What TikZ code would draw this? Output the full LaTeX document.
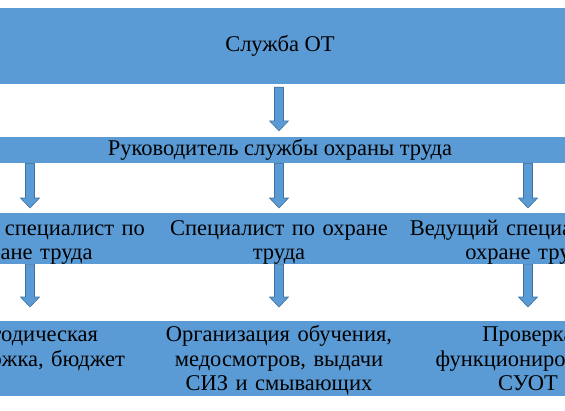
\documentclass[tikz,border=0pt]{standalone}
\usepackage{fontspec}
\setmainfont{Liberation Serif}
\newfontfamily\otfont{Liberation Serif}
\usetikzlibrary{calc}
\definecolor{otblue}{HTML}{5B9BD5}
\definecolor{otedge}{HTML}{41719C}
\begin{document}
\begin{tikzpicture}[
		x=1pt, y=-1pt,
		font=\otfont\fontsize{22.5}{24.5}\selectfont,
		box/.style={fill=otblue, inner sep=0pt, align=center, text=black},
		wide/.style={box, minimum width=640pt},
		cell/.style={box, minimum width=249pt, text width=247pt},
		duty/.style={cell, text height=22pt, text depth=29pt},
		task/.style={cell, text height=20.5pt, text depth=54.5pt},
		flow/.style={fill=otblue, draw=otedge, line width=0.6pt,
				to path={($(\tikztostart)+(-4.5,0)$) -- ($(\tikztotarget)+(-4.5,-10)$)
						-- ($(\tikztotarget)+(-9.5,-10)$) -- (\tikztotarget)
						-- ($(\tikztotarget)+(9.5,-10)$) -- ($(\tikztotarget)+(4.5,-10)$)
						-- ($(\tikztostart)+(4.5,0)$) -- cycle}}
	]
	\useasboundingbox (0,0) rectangle (565,410);
	\clip (0,0) rectangle (565,410);
	\node[wide, minimum height=76pt] (sl) at (280,46) {Служба ОТ};
	\node[wide, minimum height=26pt] (rk) at (280,150) {Руководитель службы охраны труда};
	\node[duty, anchor=north] (gs) at (30,213) {Главный специалист по\\охране труда};
	\node[duty, anchor=north] (sp) at (279,213) {Специалист по охране\\труда};
	\node[duty, anchor=north] (vs) at (528,213) {Ведущий специалист по\\охране труда};
	\node[task, anchor=north] (mp) at (30,321) {Методическая\\поддержка, бюджет};
	\node[task, anchor=north] (oo) at (279,321) {Организация обучения,\\медосмотров, выдачи\\СИЗ и смывающих};
	\node[task, anchor=north] (ps) at (528,321) {Проверка\\функционирования\\СУОТ};
	\draw[flow] ($(sl.south -| sp.north)+(0,3)$) to ($(rk.north -| sp.north)+(0,-6)$);
	\foreach \c in {gs,sp,vs}
		\draw[flow] (rk.south -| \c.north) to ($(\c.north)+(0,-5)$);
	\foreach \c/\d in {gs/mp,sp/oo,vs/ps}
		\draw[flow] (\c.south) to ($(\d.north)+(0,-14)$);
\end{tikzpicture}
\end{document}
